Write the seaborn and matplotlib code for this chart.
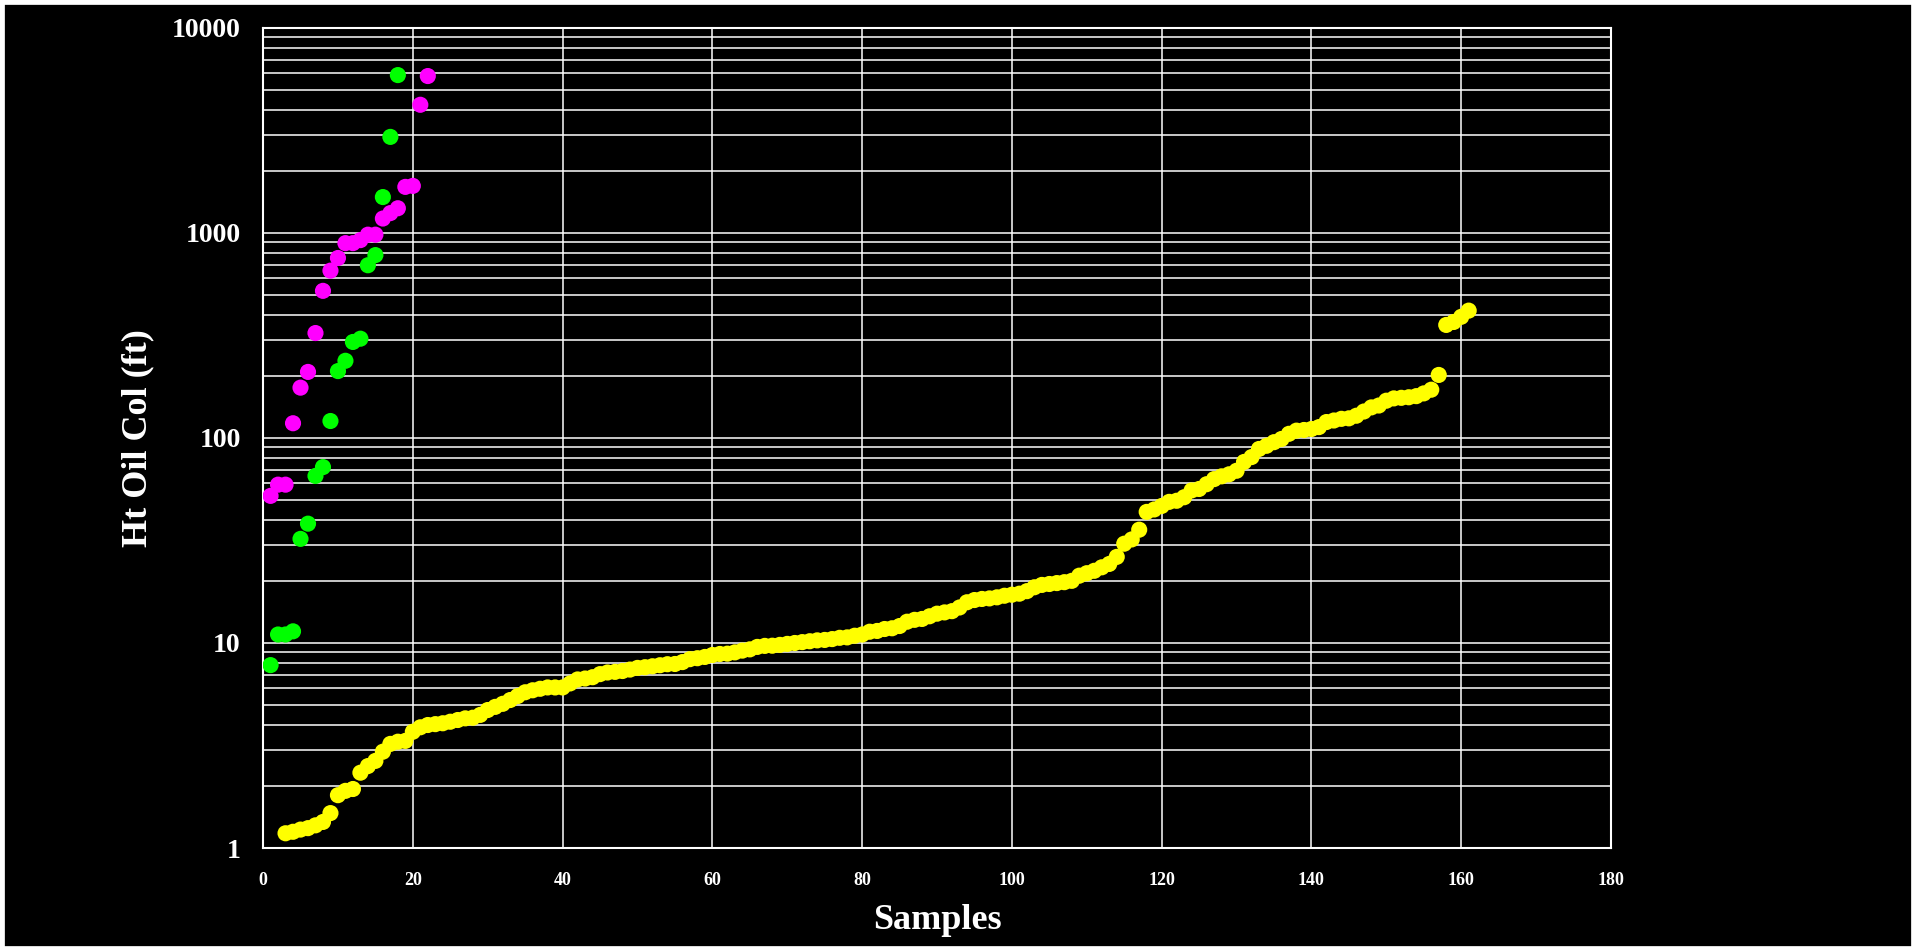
import pandas as pd
import matplotlib.pyplot as plt
import matplotlib.ticker as mticker
from matplotlib.patches import Rectangle
import seaborn as sns

# Sample numbers and oil column heights (ft)
green_x = list(range(1, 19))
green_y = [7.8, 11.0, 11.0, 11.4, 32.2, 38.2, 65.3, 72.1, 121, 212, 238, 294,
           305, 696, 780, 1497, 2942, 5890]

magenta_x = list(range(1, 23))
magenta_y = [52.2, 59.2, 59.2, 118, 176, 210, 325, 522, 655, 755, 892, 892,
             923, 981, 981, 1176, 1250, 1320, 1678, 1697, 4220, 5827]

yellow_x = list(range(3, 162))
yellow_y = [1.18, 1.20, 1.23, 1.25, 1.29, 1.34, 1.48, 1.81, 1.90, 1.94,
            2.33, 2.51, 2.66, 2.95, 3.22, 3.30, 3.33, 3.69, 3.88, 3.98,
            4.02, 4.06, 4.13, 4.21, 4.29, 4.32, 4.46, 4.71, 4.88, 5.05,
            5.27, 5.51, 5.75, 5.88, 5.98, 6.07, 6.07, 6.07, 6.35, 6.64,
            6.71, 6.81, 7.05, 7.18, 7.23, 7.30, 7.42, 7.56, 7.62, 7.70,
            7.79, 7.88, 7.90, 8.07, 8.34, 8.43, 8.55, 8.74, 8.84, 8.87,
            9.00, 9.18, 9.31, 9.57, 9.68, 9.70, 9.79, 9.90, 10.0, 10.1,
            10.2, 10.3, 10.35, 10.45, 10.6, 10.65, 10.85, 11.0, 11.35, 11.45,
            11.7, 11.8, 12.1, 12.7, 12.97, 13.1, 13.5, 13.9, 14.1, 14.3,
            14.9, 15.8, 16.2, 16.4, 16.5, 16.7, 17.0, 17.2, 17.4, 17.9,
            18.7, 19.2, 19.4, 19.6, 19.8, 20.1, 21.3, 21.9, 22.5, 23.4,
            24.3, 26.3, 30.5, 32.0, 35.7, 43.6, 44.8, 46.6, 48.8, 49.4,
            51.4, 55.5, 56.4, 59.5, 63.0, 65.0, 66.5, 69.2, 76.4, 80.7,
            88.4, 91.6, 95.4, 98.9, 104.8, 108.6, 109.4, 110.6, 113, 119.6,
            121.7, 124, 124.7, 128.4, 134.6, 141, 144, 152, 156, 157,
            158, 160, 165, 172, 203, 356, 368, 390, 418]

df = pd.concat([
    pd.DataFrame({'sample': yellow_x, 'ht': yellow_y, 'group': 'yellow'}),
    pd.DataFrame({'sample': green_x, 'ht': green_y, 'group': 'green'}),
    pd.DataFrame({'sample': magenta_x, 'ht': magenta_y, 'group': 'magenta'}),
])
palette = {'yellow': '#FFFF00', 'green': '#00FF00', 'magenta': '#FF00FF'}

sns.set_style("dark", {'axes.facecolor': 'black', 'figure.facecolor': 'black'})
plt.rcParams['font.family'] = ['Liberation Serif', 'DejaVu Serif']
plt.rcParams['font.weight'] = 'bold'

fig = plt.figure(figsize=(19.16, 9.51), dpi=100, facecolor='black')
ax = fig.add_axes([0.1373, 0.1083, 0.7035, 0.8623])
ax.set_facecolor('black')

sns.scatterplot(data=df, x='sample', y='ht', hue='group', palette=palette,
                s=135, linewidth=0, legend=False, ax=ax, zorder=3)

ax.set_yscale('log')
ax.set_ylim(1, 10000)
ax.set_xlim(0, 180)
ax.set_xticks(range(0, 181, 20))
ax.yaxis.set_major_locator(mticker.LogLocator(base=10))
ax.yaxis.set_minor_locator(mticker.LogLocator(base=10, subs=range(2, 10)))
ax.yaxis.set_major_formatter(mticker.FuncFormatter(lambda v, p: f'{v:g}'))
ax.yaxis.set_minor_formatter(mticker.NullFormatter())

ax.grid(True, which='both', axis='y', color='white', lw=1.1)
ax.grid(True, which='major', axis='x', color='white', lw=1.1)
ax.set_axisbelow(True)
ax.tick_params(which='both', length=0)
ax.tick_params(axis='y', labelsize=20, pad=16, colors='white')
ax.tick_params(axis='x', labelsize=13, pad=17, colors='white')
for lab in ax.get_xticklabels() + ax.get_yticklabels():
    lab.set_fontweight('bold')
for sp in ax.spines.values():
    sp.set_color('white')
    sp.set_linewidth(1.5)

ax.set_xlabel('Samples', fontsize=26, fontweight='bold', color='white', labelpad=11)
ax.set_ylabel('Ht Oil Col (ft)', fontsize=26, fontweight='bold', color='white', labelpad=13)

# thin white frame round the picture
fig.add_artist(Rectangle((0, 0), 1, 1, transform=fig.transFigure, fill=False,
                         edgecolor='white', linewidth=7))

plt.savefig('out.png', dpi=100, facecolor='black')
